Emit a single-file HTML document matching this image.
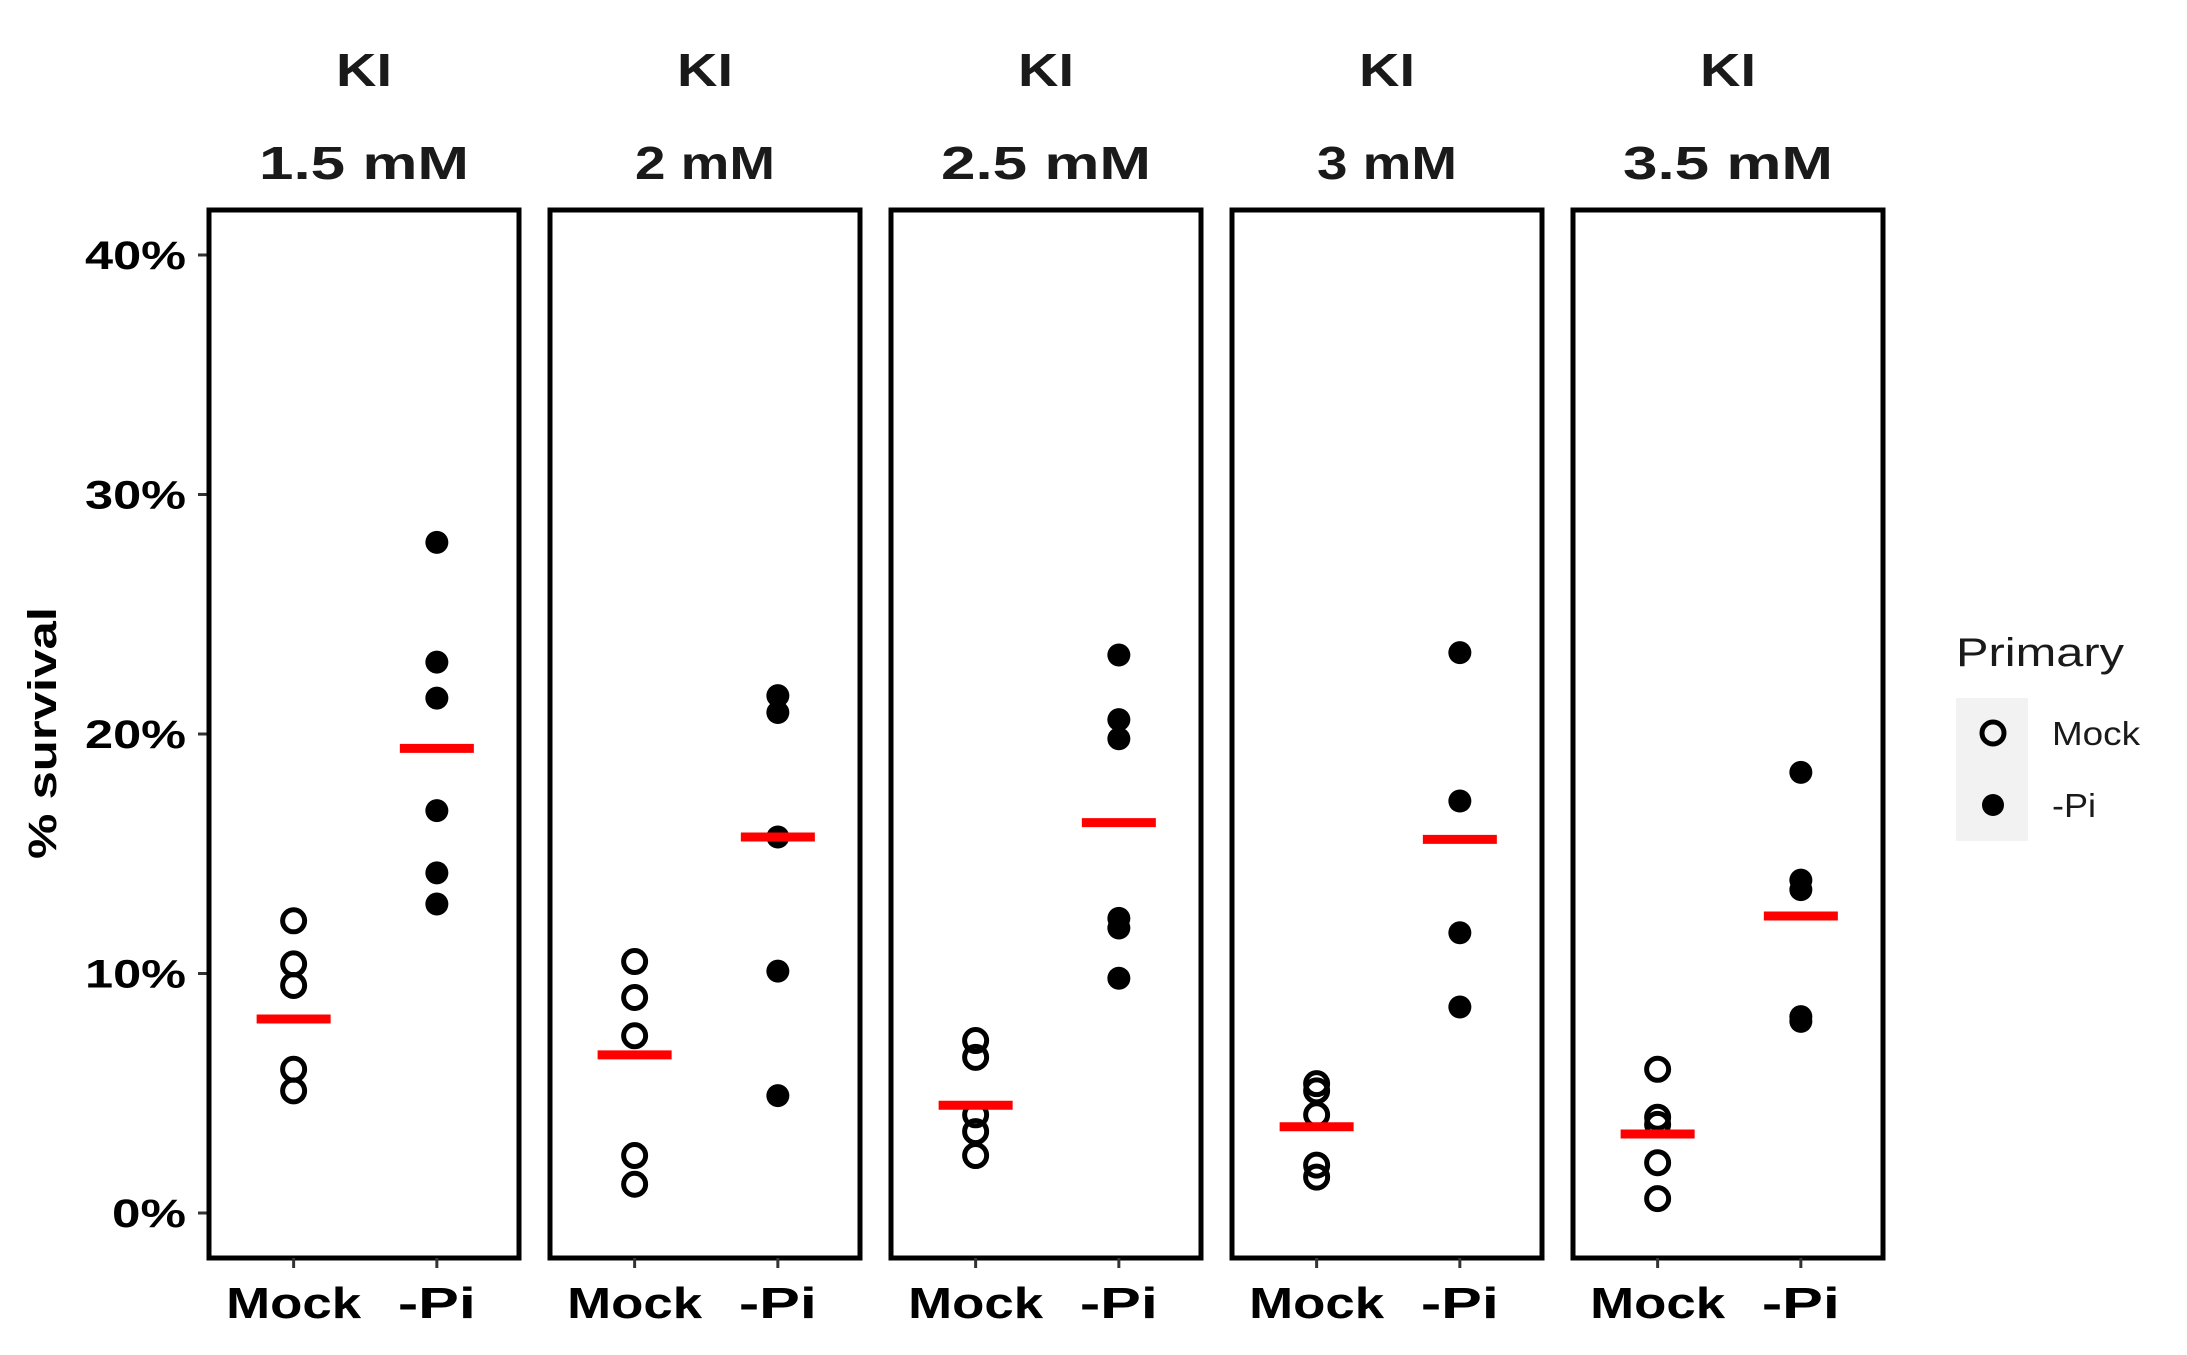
<!DOCTYPE html>
<html><head><meta charset="utf-8"><style>
html,body{margin:0;padding:0;background:#fff;}
svg text{font-family:"Liberation Sans",sans-serif;}
</style></head><body>
<svg id="chart" width="2187" height="1350" viewBox="0 0 2187 1350" xmlns="http://www.w3.org/2000/svg">
<rect width="2187" height="1350" fill="#fff"/>
<text transform="translate(56,733) rotate(-90)" text-anchor="middle" font-size="40" font-weight="bold" textLength="252" lengthAdjust="spacingAndGlyphs">% survival</text>
<g id="panels"></g>
<text x="1956" y="666" font-size="40" textLength="168" lengthAdjust="spacingAndGlyphs" fill="#1a1a1a">Primary</text>
<rect x="1956" y="698" width="72" height="143" fill="#f2f2f2"/>
<circle cx="1993" cy="733" r="11" fill="none" stroke="#000" stroke-width="5"/>
<circle cx="1993" cy="805" r="11" fill="#000"/>
<text x="2052" y="745" font-size="33" textLength="88" lengthAdjust="spacingAndGlyphs" fill="#1a1a1a">Mock</text>
<text x="2052" y="817" font-size="33" textLength="44" lengthAdjust="spacingAndGlyphs" fill="#1a1a1a">-Pi</text>
</svg>
<script>
const concentrations = ["1.5 mM","2 mM","2.5 mM","3 mM","3.5 mM"];
const categories = ["Mock","-Pi"];
const mockValues = [
  [12.2,10.4,9.5,6.0,5.1],
  [10.5,9.0,7.4,2.4,1.2],
  [7.2,6.5,4.1,3.4,2.4],
  [5.4,5.1,4.1,2.0,1.5],
  [6.0,4.0,3.7,2.1,0.6]
];
const piValues = [
  [28.0,23.0,21.5,16.8,14.2,12.9],
  [21.6,20.9,15.7,10.1,4.9],
  [23.3,20.6,19.8,12.3,11.9,9.8],
  [23.4,17.2,11.7,8.6],
  [18.4,13.9,13.5,8.2,8.0]
];
const mockMeans = [8.1,6.6,4.5,3.6,3.3];
const piMeans = [19.4,15.7,16.3,15.6,12.4];
const yTicks = [0,10,20,30,40];
const yTickLabels = ["0%","10%","20%","30%","40%"];

const NS = "http://www.w3.org/2000/svg";
const panelLeft0 = 209, panelW = 310, panelStep = 341, panelTop = 210, panelBottom = 1258;
function yScale(v){ return 1213 - v * 23.95; }
function xScale(p, ci){ const l = panelLeft0 + p*panelStep; return l + panelW*(ci===0 ? 0.273 : 0.735); }
function mk(tag, attrs){ const e = document.createElementNS(NS, tag); for (const k in attrs) e.setAttribute(k, attrs[k]); return e; }
const g = document.getElementById('panels');

yTicks.forEach((t,i)=>{
  const y = yScale(t);
  const tk = mk('line',{x1:198,x2:209,y1:y,y2:y,stroke:'#333','stroke-width':3});
  
  
  g.appendChild(tk);
  const lab = yTickLabels[i];
  const tx = mk('text',{x:186,y:y+14,'text-anchor':'end','font-size':40,'font-weight':'bold',textLength:lab.length===2?74:101,lengthAdjust:'spacingAndGlyphs'});
  tx.textContent = lab;
  
  
  g.appendChild(tx);
});

concentrations.forEach((c,p)=>{
  const left = panelLeft0 + p*panelStep;
  const cx = left + panelW/2;
  const t1 = mk('text',{x:cx,y:86,'text-anchor':'middle','font-size':46,'font-weight':'bold',fill:'#1a1a1a',textLength:56,lengthAdjust:'spacingAndGlyphs'});
  t1.textContent = 'KI';
  
  
  g.appendChild(t1);
  const t2 = mk('text',{x:cx,y:179,'text-anchor':'middle','font-size':46,'font-weight':'bold',fill:'#1a1a1a',textLength:c.length*35,lengthAdjust:'spacingAndGlyphs'});
  t2.textContent = c;
  
  
  g.appendChild(t2);
  const r = mk('rect',{x:left,y:panelTop,width:panelW,height:panelBottom-panelTop,fill:'none',stroke:'#000','stroke-width':5});
  
  
  g.appendChild(r);
  categories.forEach((cat,ci)=>{
    const x = xScale(p,ci);
    const tk = mk('line',{x1:x,x2:x,y1:panelBottom,y2:panelBottom+10,stroke:'#333','stroke-width':3});
    
    
    g.appendChild(tk);
    const tx = mk('text',{x:x,y:1318,'text-anchor':'middle','font-size':44,'font-weight':'bold',textLength:ci===0?135:78,lengthAdjust:'spacingAndGlyphs'});
    tx.textContent = cat;
    
    
    g.appendChild(tx);
  });
  mockValues[p].forEach(v=>{
    const ci = mk('circle',{cx:xScale(p,0),cy:yScale(v),r:11,fill:'none',stroke:'#000','stroke-width':5});
    
    
    g.appendChild(ci);
  });
  piValues[p].forEach(v=>{
    const ci = mk('circle',{cx:xScale(p,1),cy:yScale(v),r:11.5,fill:'#000'});
    
    
    g.appendChild(ci);
  });
  [[mockMeans[p],0],[piMeans[p],1]].forEach(([m,ci])=>{
    const x = xScale(p,ci);
    const ln = mk('line',{x1:x-37,x2:x+37,y1:yScale(m),y2:yScale(m),stroke:'#ff0000','stroke-width':9});
    
    
    g.appendChild(ln);
  });
});
</script>
</body></html>
